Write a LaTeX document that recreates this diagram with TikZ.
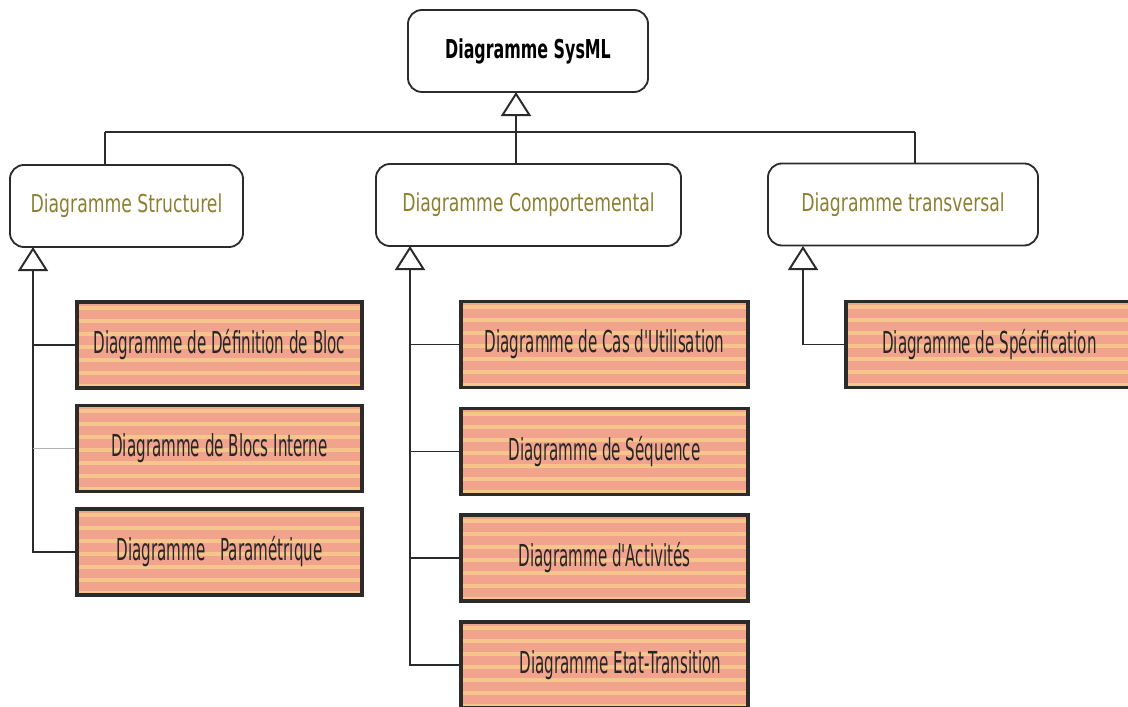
\documentclass[tikz,border=0pt]{standalone}
\usepackage{fontspec}
\newfontfamily\titlefont[FakeStretch=0.61]{DejaVu Sans}
\newfontfamily\groupfont[FakeStretch=0.7]{DejaVu Sans}
\newfontfamily\leaffont[FakeStretch=0.5]{DejaVu Sans}
\usetikzlibrary{arrows.meta,calc}
\definecolor{leaffill}{HTML}{F2A38E}
\definecolor{leafstripe}{HTML}{F7D88A}
\definecolor{grouptext}{HTML}{8C8030}
\definecolor{edgedark}{HTML}{2B2B2B}

\begin{document}
\begin{tikzpicture}[x=0.025cm, y=-0.025cm, >={Triangle[open,length=0.6cm,width=0.75cm]}, line width=1.4pt, draw=edgedark]
\tikzstyle{group}=[draw=edgedark, line width=1.3pt, rounded corners=0.35cm, fill=white, minimum height=2.05cm, text=grouptext, font=\groupfont\fontsize{17.5}{20}\selectfont]
\tikzstyle{leaf}=[draw=edgedark, line width=2.4pt, fill=leaffill, minimum width=7.175cm, minimum height=2.15cm, text=black!85, font=\leaffont\fontsize{21.5}{24}\selectfont,
  path picture={\foreach \k in {0,...,7}{\fill[leafstripe, opacity=0.65] ($(path picture bounding box.north west)+(0,\k*13+4)$) rectangle ++(320,4);}}]
\useasboundingbox (0,0) rectangle (1128,707);
\clip (0,0) rectangle (1128,707);

\node[group, text=black, minimum width=6cm, font=\titlefont\bfseries\fontsize{18.5}{21}\selectfont] (sysml) at (528,51) {Diagramme SysML};
\node[group, minimum width=5.825cm] (struct) at (126.5,206) {Diagramme Structurel};
\node[group, minimum width=7.625cm] (comp)   at (528.5,205) {Diagramme Comportemental};
\node[group, minimum width=6.75cm]  (trans)  at (903,204.5) {Diagramme transversal};

\node[leaf, minimum width=7.125cm] (bdd) at (219.5,345)   {Diagramme de Définition de Bloc};
\node[leaf, minimum width=7.125cm] (ibd) at (219.5,448.5) {Diagramme de Blocs Interne};
\node[leaf, minimum width=7.125cm] (par) at (219.5,552)   {Diagramme\enspace Paramétrique};

\node[leaf] (uc)  at (604.5,344.5) {Diagramme de Cas d'Utilisation};
\node[leaf] (seq) at (604.5,451.5) {Diagramme de Séquence};
\node[leaf] (act) at (604.5,558)   {Diagramme d'Activités};
\node[leaf] (stm) at (604.5,665)   {\hspace{0.8cm}Diagramme Etat-Transition};

\node[leaf] (req) at (989.5,344.5) {Diagramme de Spécification};

\coordinate (sysmltip)  at (516,92);
\coordinate (barL)      at (105,132);
\coordinate (barR)      at (915,132);
\coordinate (structtip) at (33,247);
\coordinate (comptip)   at (410,246);
\coordinate (transtip)  at (803,246);

% top level
\draw[->] (comp.north -| sysmltip) -- (sysmltip);
\draw (barL) -- (barR);
\draw (barL) -- (barL |- struct.north);
\draw (barR) -- (barR |- trans.north);

% structurel
\draw[->] (par.west) -| (structtip);
\draw (bdd.west) -- (bdd.west -| structtip);
\draw[gray!60, line width=0.6pt] (ibd.west) -- (ibd.west -| structtip);

% comportemental
\draw[->] (stm.west) -| (comptip);
\draw (uc.west) -- (uc.west -| comptip);
\draw (seq.west) -- (seq.west -| comptip);
\draw (act.west) -- (act.west -| comptip);

% transversal
\draw[->] (req.west) -| (transtip);
\end{tikzpicture}
\end{document}
